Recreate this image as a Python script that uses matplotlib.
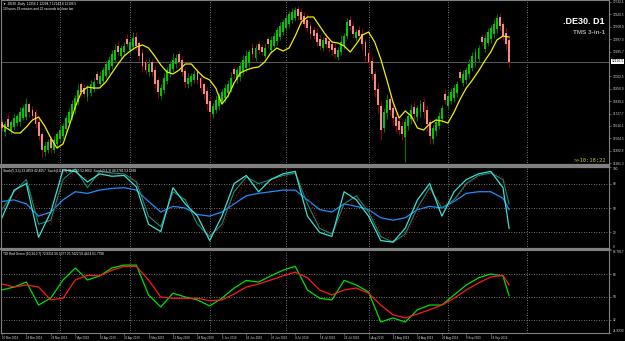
import matplotlib
matplotlib.use("Agg")
import matplotlib.pyplot as plt
import numpy as np

plt.rcParams['font.family'] = ['Liberation Sans', 'DejaVu Sans']

W, H = 625, 341

# daily bars, one per trading day (10 Mar 2019 .. 25 Sep 2019)
opens = [11650, 11560, 11680, 11580, 11610, 11640, 11650, 11690, 11700, 11810,
         11760, 11740, 11650, 11540, 11380, 11400, 11500, 11400, 11450, 11500,
         11530, 11590, 11640, 11700, 11760, 11830, 11990, 11960, 11880, 11910,
         11950, 12080, 11990, 12020, 12070, 12120, 12160, 12210, 12340, 12250,
         12280, 12400, 12300, 12330, 12420, 12360, 12270, 12190, 12100, 12190,
         12120, 12030, 11890, 11940, 12020, 12090, 12130, 12170, 12260, 12210,
         12110, 11990, 12010, 12030, 12100, 12050, 11990, 11930, 11840, 11720,
         11760, 11800, 11840, 11870, 11910, 11950, 12130, 12030, 12060, 12100,
         12140, 12180, 12320, 12230, 12350, 12330, 12250, 12400, 12300, 12340,
         12380, 12420, 12460, 12500, 12530, 12570, 12590, 12670, 12640, 12610,
         12570, 12520, 12480, 12450, 12400, 12320, 12410, 12380, 12350, 12320,
         12240, 12280, 12340, 12430, 12570, 12520, 12410, 12480, 12440, 12370,
         12270, 12200, 12080, 11950, 11800, 11600, 11730, 11860, 11780, 11700,
         11660, 11620, 11520, 11620, 11680, 11790, 11700, 11740, 11830, 11760,
         11650, 11500, 11570, 11620, 11680, 11900, 11800, 11840, 11870, 11910,
         12100, 12000, 12030, 12080, 12140, 12190, 12220, 12420, 12310, 12360,
         12400, 12440, 12490, 12600, 12530, 12450, 12390]
closes = [11598, 11634, 11607, 11652, 11688, 11706, 11742, 11778, 11814, 11742,
          11706, 11634, 11526, 11400, 11436, 11472, 11418, 11490, 11544, 11580,
          11616, 11688, 11742, 11814, 11868, 11940, 11922, 11904, 11958, 11994,
          12012, 12030, 12066, 12120, 12174, 12210, 12264, 12300, 12282, 12318,
          12336, 12354, 12372, 12408, 12336, 12246, 12156, 12120, 12174, 12102,
          11994, 11922, 11958, 12048, 12120, 12174, 12210, 12228, 12192, 12102,
          12012, 12048, 12066, 12084, 12030, 11958, 11904, 11814, 11742, 11796,
          11850, 11886, 11922, 11958, 11994, 12048, 12084, 12120, 12156, 12210,
          12246, 12282, 12264, 12318, 12300, 12282, 12318, 12354, 12390, 12426,
          12480, 12516, 12552, 12588, 12624, 12642, 12660, 12606, 12570, 12534,
          12498, 12444, 12426, 12372, 12336, 12390, 12354, 12318, 12300, 12264,
          12300, 12372, 12426, 12552, 12516, 12444, 12462, 12426, 12354, 12246,
          12192, 12084, 11940, 11805, 11580, 11742, 11850, 11760, 11688, 11616,
          11580, 11544, 11652, 11706, 11760, 11724, 11778, 11814, 11742, 11634,
          11526, 11598, 11652, 11706, 11778, 11850, 11886, 11922, 11958, 11994,
          12048, 12084, 12120, 12174, 12246, 12282, 12318, 12372, 12408, 12462,
          12498, 12534, 12588, 12516, 12426, 12354, 12196.5]
wick_up = [30, 25, 40, 20, 35, 15, 45, 30, 50, 20,
           35, 25, 30, 20, 40, 25, 30, 35, 20, 45,
           30, 25, 40, 35, 30, 55, 20, 30, 25, 40,
           35, 30, 45, 25, 30, 40, 35, 50, 30, 25,
           35, 40, 30, 55, 45, 20, 35, 30, 50, 25,
           40, 30, 35, 45, 30, 25, 60, 40, 30, 35,
           25, 45, 30, 40, 35, 30, 25, 35, 40, 30,
           45, 25, 30, 35, 40, 50, 30, 25, 35, 45,
           55, 30, 40, 35, 30, 25, 45, 30, 35, 40,
           30, 35, 25, 40, 30, 35, 30, 25, 40, 35,
           50, 30, 25, 45, 35, 30, 40, 35, 30, 45,
           25, 60, 30, 35, 40, 30, 25, 35, 45, 30,
           40, 50, 35, 60, 45, 40, 55, 30, 35, 45,
           30, 40, 35, 30, 50, 45, 30, 35, 40, 45,
           30, 25, 40, 35, 30, 45, 30, 35, 40, 30,
           25, 35, 30, 45, 40, 35, 30, 25, 40, 35,
           30, 45, 40, 35, 30, 50, 40]
wick_dn = [25, 35, 20, 40, 30, 25, 35, 20, 30, 45,
           30, 40, 35, 60, 30, 25, 45, 30, 35, 25,
           30, 35, 25, 30, 40, 25, 45, 30, 35, 25,
           30, 35, 25, 30, 20, 35, 30, 25, 40, 30,
           25, 30, 35, 25, 40, 45, 50, 35, 30, 40,
           45, 55, 30, 35, 25, 30, 25, 35, 30, 40,
           45, 30, 35, 25, 40, 35, 45, 50, 60, 35,
           30, 40, 25, 35, 30, 25, 35, 30, 40, 25,
           35, 30, 45, 25, 40, 30, 25, 35, 30, 25,
           35, 30, 25, 30, 35, 25, 30, 40, 35, 30,
           40, 45, 30, 35, 40, 30, 35, 40, 45, 35,
           30, 25, 35, 30, 40, 35, 30, 40, 45, 50,
           40, 55, 60, 70, 90, 40, 55, 45, 60, 50,
           45, 50, 230, 40, 45, 50, 35, 40, 55, 60,
           70, 45, 40, 35, 30, 40, 35, 30, 40, 35,
           30, 25, 35, 30, 25, 40, 30, 35, 30, 25,
           35, 30, 40, 35, 40, 45, 60]

# yellow moving average, read every 2 bars
ma_vals = [11625, 11589, 11553, 11553, 11607, 11670, 11697, 11616, 11508, 11418,
           11454, 11616, 11787, 11922, 11967, 11958, 11958, 12012, 12093, 12174,
           12246, 12291, 12327, 12345, 12318, 12246, 12165, 12102, 12084, 12120,
           12174, 12174, 12111, 12057, 12030, 11958, 11814, 11886, 12003, 12093,
           12120, 12138, 12147, 12192, 12273, 12318, 12291, 12318, 12426, 12552,
           12597, 12597, 12516, 12435, 12372, 12363, 12336, 12282, 12354, 12435,
           12462, 12372, 12219, 12030, 11832, 11688, 11751, 11706, 11598, 11580,
           11634, 11670, 11661, 11643, 11742, 11859, 11958, 12030, 12111, 12201,
           12282, 12390, 12426, 12417]

# sub-window lines, read at bars 0, 4, 8 ... 164 and the last bar 166
sub_bars = list(range(0, 165, 4)) + [166]
stoch_fast = [38, 72, 80, 14, 45, 97, 95, 82, 92, 89, 90, 76, 30, 21, 75, 55, 40, 10, 40, 80,
              90, 70, 85, 92, 95, 40, 20, 15, 70, 60, 40, 10, 8, 25, 60, 80, 40, 70, 85, 92,
              95, 75, 25]
stoch_slow = [48, 70, 85, 30, 35, 85, 98, 75, 95, 93, 92, 82, 40, 27, 70, 60, 30, 15, 30, 70,
              88, 80, 85, 90, 93, 55, 25, 18, 55, 65, 45, 15, 8, 18, 50, 75, 50, 60, 80, 90,
              93, 85, 55]
stoch_signal = [50, 60, 82, 45, 30, 80, 95, 85, 88, 92, 90, 85, 50, 28, 55, 62, 40, 18, 25, 60,
                85, 80, 80, 88, 93, 65, 30, 18, 45, 62, 50, 20, 10, 15, 42, 70, 55, 58, 78, 88,
                93, 88, 70]
stoch_blue = [58, 60, 55, 40, 45, 60, 70, 68, 72, 74, 75, 72, 58, 45, 52, 50, 42, 40, 45, 55,
              65, 68, 70, 72, 72, 60, 48, 45, 55, 52, 48, 38, 35, 38, 48, 52, 50, 58, 68, 70,
              70, 62, 48]
tdi_green = [55.5, 57.8, 61.7, 43.7, 49.2, 63.3, 72.7, 63.3, 66.5, 72.7, 75, 75, 51.6, 42.2,
             53, 50, 47.7, 43, 49, 57, 63, 61.7, 66.5, 71, 74, 55.5, 49, 47.7, 63, 59.4,
             53.9, 30.4, 33.6, 30.4, 40, 43.7, 43.7, 51.6, 59.4, 65, 68, 66.5, 51]
tdi_red = [60.2, 57.8, 59.4, 57.8, 47.7, 49, 63.3, 67, 66.5, 71, 74, 74, 63.3, 50,
           49, 49, 49, 47, 47.7, 52.3, 57.8, 60.2, 63.3, 66.5, 69.5, 65, 55.5, 51.6, 55.5, 57,
           53, 43.7, 36, 33.6, 36.7, 40, 43.7, 49, 55.5, 61, 65.7, 67, 59.4]

price_ticks = [12732.1, 12620.5, 12508.9, 12397.3, 12285.7, 12062.5, 11950.9,
               11839.3, 11727.7, 11616.1, 11504.5, 11392.9, 11281.3]
bid = 12196.5
date_labels = ["10 Mar 2019", "19 Mar 2019", "28 Mar 2019", "7 Apr 2019", "16 Apr 2019",
               "25 Apr 2019", "6 May 2019", "15 May 2019", "28 May 2019", "5 Jun 2019",
               "16 Jun 2019", "25 Jun 2019", "4 Jul 2019", "14 Jul 2019", "23 Jul 2019",
               "1 Aug 2019", "12 Aug 2019", "20 Aug 2019", "29 Aug 2019", "9 Sep 2019",
               "18 Sep 2019"]
month_bars = [19, 42, 68, 93, 120, 146, 172]

GRID = '#9a9a9a'
AXC = '#808080'
TXT = '#d8d8d8'

fig = plt.figure(figsize=(W / 100, H / 100), dpi=100, facecolor='black')


def panel(y0, y1):
    ax = fig.add_axes([1 / W, 1 - y1 / H, 608 / W, (y1 - y0) / H])
    ax.set_facecolor('black')
    ax.set_xlim(-0.3, 198.7)
    for s in ax.spines.values():
        s.set_color(AXC)
        s.set_linewidth(0.8)
    ax.yaxis.tick_right()
    ax.tick_params(axis='y', colors=AXC, labelcolor=TXT, labelsize=2.3,
                   length=1.5, width=0.5, pad=1)
    ax.tick_params(axis='x', bottom=False, labelbottom=False)
    for b in month_bars:
        ax.axvline(b, color=GRID, ls=(0, (1, 2)), lw=0.6, zorder=0)
    return ax


def edge_labels(ax):
    # MT4 keeps the top and bottom scale labels inside the window
    labels = ax.get_yticklabels()
    labels[0].set_va('bottom')
    labels[-1].set_va('top')


main = panel(0, 165)
sto = panel(167, 249)
tdi = panel(250, 333)

# --- candles
c = np.array(closes, float)
o = np.array(opens, float)
idx = np.arange(len(c))
hi = np.maximum(o, c) + np.array(wick_up)
lo = np.minimum(o, c) - np.array(wick_dn)
up = c >= o
main.vlines(idx[up], lo[up], hi[up], color='#007a00', lw=0.7, zorder=2)
main.vlines(idx[~up], lo[~up], hi[~up], color='#a00000', lw=0.7, zorder=2)
main.bar(idx[up], (c - o)[up], bottom=o[up], width=0.62, color='#00c800', lw=0, zorder=3)
main.bar(idx[~up], (o - c)[~up], bottom=c[~up], width=0.62, color='#f58a80', lw=0, zorder=3)
main.plot(np.arange(len(ma_vals)) * 2, ma_vals, color='#f0f000', lw=0.9, zorder=4)
main.axhline(bid, color='#5a5a5a', lw=0.7, zorder=1)
main.set_ylim(11265, 12750)
main.set_yticks(price_ticks)
main.set_yticklabels([f"{v:.1f}" for v in price_ticks])
main.spines['bottom'].set_linewidth(1.6)
main.annotate(f"{bid:.1f}", xy=(1.004, bid), xycoords=('axes fraction', 'data'),
              fontsize=2.4, color='black', va='center', ha='left',
              bbox=dict(boxstyle='square,pad=0.15', fc='white', ec='none'))

# --- stochastic window
for lvl in (20, 50, 80):
    sto.axhline(lvl, color=GRID, ls=(0, (1, 2)), lw=0.6, zorder=0)
sto.plot(sub_bars, stoch_blue, color='#1e90ff', lw=0.9)
sto.plot(sub_bars, stoch_signal, color='#b00000', lw=0.8, ls=':')
sto.plot(sub_bars, stoch_slow, color='#16897d', lw=0.8)
sto.plot(sub_bars, stoch_fast, color='#3fe0d0', lw=0.9)
sto.set_ylim(-0.4, 100.4)
sto.set_yticks([0, 20, 50, 80, 100])
sto.set_yticklabels(["0", "20", "50", "80", "100"])
edge_labels(sto)
sto.spines['top'].set_linewidth(1.6)
sto.spines['bottom'].set_linewidth(1.6)

# --- TDI window
for lvl in (32, 50, 68):
    tdi.axhline(lvl, color=GRID, ls=(0, (1, 2)), lw=0.6, zorder=0)
tdi.plot(sub_bars, tdi_green, color='#00e000', lw=0.9)
tdi.plot(sub_bars, tdi_red, color='#ff1a1a', lw=0.9)
tdi.set_ylim(21.8, 86.8)
tdi.set_yticks([21.8, 32, 50, 68, 86.8])
tdi.set_yticklabels(["21.8230", "32", "50", "68", "86.7917"])
edge_labels(tdi)
tdi.set_xticks(np.arange(len(date_labels)) * 8)
tdi.set_xticklabels(date_labels, ha='left')
tdi.tick_params(axis='x', bottom=True, labelbottom=True, colors=AXC, labelcolor=TXT,
                labelsize=2.1, length=1.5, width=0.5, pad=0.6)


def ftext(x, y, s, **kw):
    fig.text(x / W, 1 - y / H, s, va='center', **kw)


ftext(3, 4.5, "\u25bc .DE30.,Daily  12256.1 12294.7 12142.8 12196.5", fontsize=2.3, color='white')
ftext(3, 9.5, "10 hours 18 minutes and 22 seconds to close bar", fontsize=2.3, color='white')
ftext(605, 21, ".DE30. D1", fontsize=6.5, color='white', fontweight='bold', ha='right')
ftext(605, 32, "TMS 3-in-1", fontsize=4.6, color='#a8a8a8', fontweight='bold', ha='right')
ftext(606, 160, ">>10:18:22", fontsize=4, color='#c8c800', ha='right', family='DejaVu Sans Mono')
ftext(3, 171, "Stoch(5,3,3) 23.4659 42.4057  Stoch(14,3,3) 39.9743 52.8662  Stoch(3,3,3) 48.2781 53.1928",
      fontsize=2.3, color='white')
ftext(3, 254, "TDI Red Green (10,34,2,7) 72.9311 56.1377 25.7422 59.4454 61.7798",
      fontsize=2.3, color='white')

fig.savefig("out.png", dpi=100, facecolor='black')
